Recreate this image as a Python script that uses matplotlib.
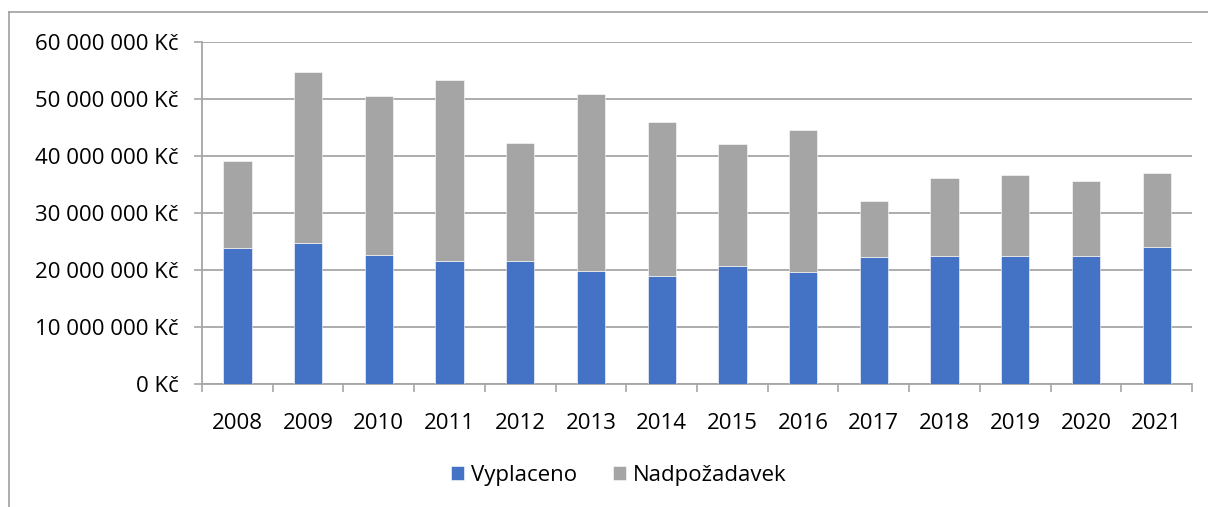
import numpy as np
import matplotlib
matplotlib.use('Agg')
import matplotlib.pyplot as plt
from matplotlib.lines import Line2D
from matplotlib.ticker import FuncFormatter

plt.rcParams['font.family'] = ['Open Sans', 'DejaVu Sans']

# data (Kč)
years = ['2008', '2009', '2010', '2011', '2012', '2013', '2014',
         '2015', '2016', '2017', '2018', '2019', '2020', '2021']
celkem = [39.1e6, 54.8e6, 50.5e6, 53.3e6, 42.2e6, 50.8e6, 46.0e6,
          42.1e6, 44.6e6, 32.1e6, 36.1e6, 36.7e6, 35.7e6, 37.0e6]
vyplaceno = [23.8e6, 24.7e6, 22.6e6, 21.5e6, 21.5e6, 19.9e6, 19.0e6,
             20.7e6, 19.6e6, 22.2e6, 22.4e6, 22.4e6, 22.4e6, 24.0e6]
nadpozadavek = [c - v for c, v in zip(celkem, vyplaceno)]

blue = '#4472C4'
gray = '#A5A5A5'
axcol = '#A6A6A6'
fs = 16

fig = plt.figure(figsize=(12.08, 5.07), dpi=100)
ax = fig.add_axes([202/1208, 1 - 384/507, 990/1208, 342/507])

x = np.arange(len(years))
ax.bar(x, vyplaceno, width=0.4, color=blue, edgecolor='white', linewidth=0.4,
       label='Vyplaceno', zorder=3)
ax.bar(x, nadpozadavek, width=0.4, bottom=vyplaceno, color=gray, edgecolor='white',
       linewidth=0.4, label='Nadpožadavek', zorder=3)

ax.set_xlim(-0.5, len(years) - 0.5)
ax.set_ylim(0, 60e6)
ax.set_yticks(np.arange(0, 60e6 + 1, 10e6))
ax.yaxis.set_major_formatter(FuncFormatter(lambda v, p: '{:,.0f} Kč'.format(v).replace(',', ' ')))
ax.grid(axis='y', color=axcol, linewidth=1.3, zorder=0)

ax.set_xticks(x)
ax.set_xticklabels(years)
ax.set_xticks(np.arange(-0.5, len(years)), minor=True)
ax.tick_params(axis='x', which='major', length=0, pad=21, labelsize=fs)
ax.tick_params(axis='x', which='minor', length=6, width=1.2, color=axcol, direction='out')
ax.tick_params(axis='y', length=6, width=1.2, color=axcol, pad=11, labelsize=fs)

for s in ['top', 'right']:
    ax.spines[s].set_visible(False)
for s in ['left', 'bottom']:
    ax.spines[s].set_color(axcol)
    ax.spines[s].set_linewidth(1.3)

fig.legend(loc='center', bbox_to_anchor=(0.512, 1 - 475/507), ncol=2, frameon=False,
           fontsize=fs, handlelength=0.6, handleheight=0.6, handletextpad=0.3,
           columnspacing=1.6)

# chart area border (cut at right and bottom in the source)
fig.add_artist(Line2D([9/1208, 9/1208], [0, 1 - 12/507], transform=fig.transFigure,
                      color='#A0A0A0', linewidth=1.2))
fig.add_artist(Line2D([9/1208, 1], [1 - 12/507, 1 - 12/507], transform=fig.transFigure,
                      color='#A0A0A0', linewidth=1.2))

fig.savefig('out.png', dpi=100)
